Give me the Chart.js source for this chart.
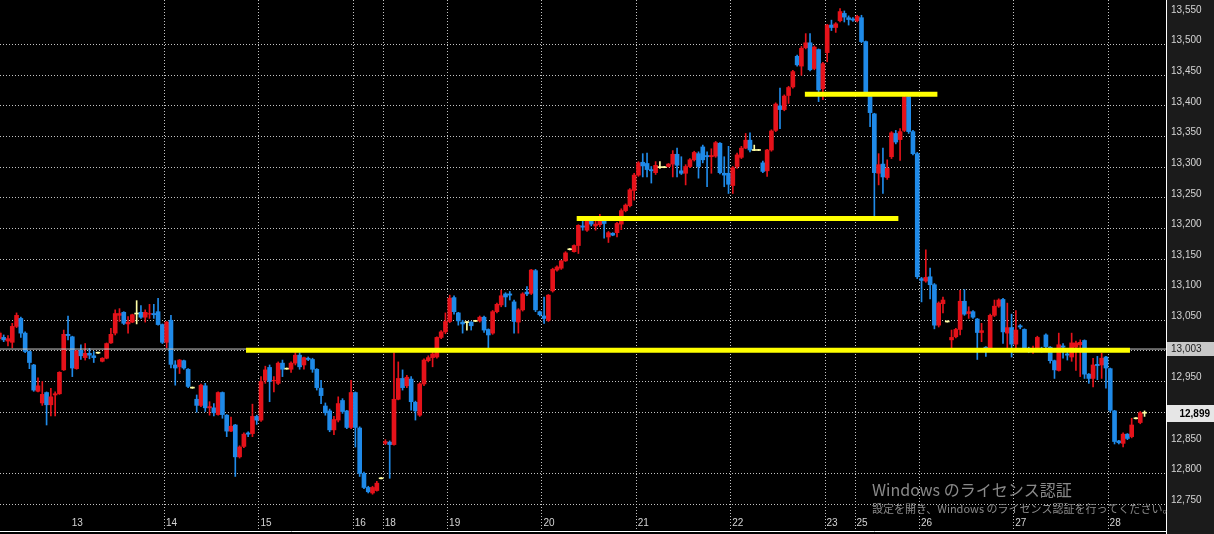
<!DOCTYPE html>
<html><head><meta charset="utf-8">
<script src="https://cdn.jsdelivr.net/npm/chart.js@4.4.0/dist/chart.umd.min.js"></script>
<style>html,body{margin:0;padding:0;background:#000;overflow:hidden}canvas{display:block}</style>
</head><body>
<canvas id="c" width="1214" height="534"></canvas>
<script>
const opens = [
13020,13022,13016,13014,13040,13053,13029,12999,12977,12934,
12915,12932,12912,12928,12930,12969,13027,13023,12971,13001,
12989,12996,12992,12997,12983,12988,13013,13029,13058,13063,
13044,13047,13061,13063,13055,13060,13061,13064,13043,13014,
13050,12977,12974,12984,12970,12940,12921,12911,12943,12907,
12907,12896,12932,12895,12869,12879,12827,12844,12866,12865,
12893,12887,12952,12973,12951,12947,12980,12971,12970,12980,
12993,12977,12988,12986,12970,12939,12910,12902,12871,12887,
12919,12902,12875,12932,12874,12800,12777,12768,12772,12792,
12849,12851,12847,12921,12955,12943,12954,12916,12895,12946,
12984,12989,12990,13022,13031,13048,13087,13062,13047,13047,
13047,13049,13049,13055,13035,13029,13064,13075,13093,13093,
13080,13047,13067,13096,13094,13131,13064,13057,13050,13098,
13132,13135,13147,13166,13162,13172,13204,13197,13213,13204,
13206,13213,13186,13192,13193,13207,13229,13237,13262,13287,
13308,13306,13296,13291,13300,13300,13301,13305,13321,13294,
13290,13301,13312,13322,13333,13319,13317,13318,13339,13290,
13290,13270,13301,13316,13331,13344,13328,13328,13307,13294,
13328,13360,13400,13394,13417,13431,13481,13465,13495,13503,
13461,13492,13428,13487,13532,13528,13539,13551,13544,13542,
13539,13544,13505,13418,13387,13290,13305,13283,13317,13355,
13345,13360,13415,13358,13322,13118,13114,13121,13108,13042,
13077,13048,13018,13023,13035,13081,13061,13064,13052,13030,
13006,13004,13058,13073,13084,13029,13038,13011,13041,13035,
13004,13000,13004,13004,13026,13006,12984,12968,13008,12995,
12990,13006,13010,13017,12962,12955,12978,12977,12990,12971,
12902,12853,12849,12864,12860,12890,12883,12899];
const highs = [
13031,13026,13025,13045,13062,13055,13031,13000,12978,12956,
12950,12933,12939,12933,12966,13034,13057,13024,13001,13010,
13012,13004,12999,12998,12989,13013,13037,13067,13069,13064,
13056,13060,13082,13074,13067,13076,13076,13086,13044,13048,
13058,12984,12986,12985,12971,12941,12928,12946,12947,12917,
12914,12933,12933,12896,12892,12880,12845,12866,12868,12913,
12895,12958,12975,12977,12958,12982,12985,12972,12982,12997,
12997,12990,12990,12988,12971,12952,12915,12905,12893,12925,
12922,12903,12952,12933,12876,12802,12779,12779,12787,12793,
12855,12853,12997,12982,12969,12960,12958,12918,12948,12987,
12992,12998,13023,13033,13062,13091,13090,13063,13050,13048,
13048,13050,13057,13057,13036,13066,13078,13099,13095,13097,
13083,13069,13095,13105,13133,13133,13065,13088,13092,13135,
13139,13148,13162,13167,13173,13206,13214,13218,13217,13217,
13223,13218,13195,13193,13210,13232,13240,13265,13290,13309,
13322,13323,13301,13309,13309,13301,13306,13327,13331,13317,
13304,13314,13326,13325,13336,13325,13330,13342,13340,13317,
13334,13301,13323,13334,13355,13356,13336,13329,13310,13329,
13361,13405,13429,13418,13432,13458,13483,13497,13518,13518,
13498,13493,13471,13533,13540,13536,13559,13555,13547,13544,
13548,13548,13506,13420,13388,13322,13331,13312,13358,13360,
13363,13418,13418,13360,13324,13120,13165,13135,13110,13080,
13088,13049,13034,13037,13099,13100,13072,13066,13053,13045,
13007,13060,13083,13085,13086,13078,13060,13066,13043,13036,
13006,13008,13024,13006,13028,13007,12985,13029,13012,13000,
13029,13016,13018,13018,12963,12988,12991,12996,12991,12972,
12903,12854,12866,12865,12890,12891,12901,12902];
const lows = [
13017,13015,13008,13005,13038,13022,12997,12971,12934,12933,
12911,12879,12894,12894,12929,12968,13018,12958,12970,12986,
12985,12987,12981,12996,12982,12987,13012,13026,13048,13043,
13029,13046,13044,13053,13047,13053,13053,13042,13012,13005,
12972,12944,12963,12970,12940,12939,12900,12909,12901,12895,
12894,12895,12890,12860,12868,12795,12825,12842,12860,12860,
12880,12885,12947,12917,12933,12945,12958,12970,12965,12977,
12970,12970,12984,12965,12936,12914,12895,12868,12863,12884,
12898,12873,12873,12843,12795,12775,12768,12766,12771,12791,
12847,12792,12846,12920,12936,12940,12903,12887,12893,12943,
12982,12974,12988,13020,13028,13046,13060,13042,13029,13034,
13034,13048,13047,13030,13004,13027,13062,13072,13072,13083,
13029,13029,13065,13090,13092,13064,13057,13045,13048,13096,
13130,13133,13146,13165,13161,13159,13197,13195,13204,13197,
13203,13184,13177,13188,13186,13198,13227,13235,13246,13285,
13284,13284,13274,13288,13298,13299,13300,13284,13284,13288,
13271,13299,13310,13282,13307,13268,13290,13316,13289,13268,
13257,13257,13298,13314,13330,13325,13327,13327,13291,13285,
13326,13358,13363,13392,13404,13429,13465,13450,13493,13457,
13459,13407,13410,13472,13523,13520,13537,13537,13532,13538,
13537,13503,13420,13366,13220,13271,13257,13280,13314,13338,
13311,13358,13355,13320,13118,13080,13112,13085,13036,13039,
13062,13047,13004,13021,13026,13058,13053,13053,12986,13015,
12991,13002,13056,13071,13012,12999,12990,13001,13036,13002,
12997,12996,13002,12998,13005,12980,12955,12967,12988,12985,
12983,12968,12958,12955,12947,12941,12953,12955,12939,12900,
12848,12848,12843,12855,12858,12889,12881,12893];
const closes = [
13029,13018,13020,13040,13058,13029,12999,12981,12936,12943,
12929,12912,12925,12930,12965,13027,13025,12972,13000,12992,
12996,12993,12989,12997,12988,13012,13027,13061,13061,13045,
13047,13059,13061,13055,13063,13061,13059,13043,13014,13047,
12978,12972,12985,12972,12942,12940,12911,12944,12907,12909,
12899,12932,12896,12869,12877,12827,12843,12864,12864,12893,
12887,12950,12969,12950,12952,12980,12970,12971,12980,12993,
12974,12989,12986,12970,12940,12927,12899,12871,12888,12914,
12901,12875,12932,12875,12800,12777,12770,12777,12784,12792,
12852,12847,12921,12955,12940,12957,12917,12902,12946,12985,
12989,12995,13022,13031,13048,13086,13064,13049,13044,13047,
13041,13049,13055,13034,13026,13064,13076,13090,13088,13091,
13048,13067,13093,13093,13132,13067,13059,13053,13091,13133,
13137,13147,13160,13166,13172,13205,13202,13213,13207,13207,
13216,13208,13193,13189,13208,13229,13238,13263,13287,13307,
13302,13296,13294,13303,13300,13300,13305,13321,13303,13290,
13301,13312,13324,13301,13312,13317,13319,13340,13291,13287,
13272,13299,13320,13331,13344,13328,13328,13328,13293,13328,
13359,13403,13394,13416,13430,13456,13467,13494,13503,13459,
13496,13426,13469,13532,13528,13534,13554,13545,13541,13540,
13546,13505,13423,13389,13291,13304,13284,13298,13356,13341,
13358,13415,13358,13322,13121,13115,13120,13108,13042,13078,
13083,13048,13022,13035,13081,13060,13064,13055,13030,13033,
13004,13058,13073,13083,13031,13038,13011,13034,13039,13004,
13000,13004,13022,13001,13007,12984,12969,13010,13006,12993,
13013,13013,13014,12962,12955,12977,12976,12988,12972,12903,
12852,12850,12864,12857,12879,12890,12899,12899];

const dayLabels = ['13','14','15','16','18','19','20','21','22','23','25','26','27','28'];
const dayFirstCandle = [17,39,61,83,90,105,127,149,171,193,200,215,237,259];
const yTickValues = [12750,12800,12850,12900,12950,13000,13050,13100,13150,13200,13250,13300,13350,13400,13450,13500,13550];
const hiddenGridValues = [12850,13550];
const hiddenLabelValues = [12900,13000];
const levelValues = [13001, 13216, 13419];
const levelFrom = [57.5, 134.6, 187.8];
const levelTo = [263.6, 209.6, 218.7];
const markedLevel = 13003;

const X_MIN = 0.14, X_MAX = 272.0;
const RED = '#e5121a', BLUE = '#1f8ae8', DOJI = '#ffffa6', GRID = '#c4c4c4';
const TXT = '#d4d4d4';
const FONT = {family: 'Liberation Sans', size: 10};

const idx = opens.map((_, i) => i);
const colors = idx.map(i => closes[i] > opens[i] ? RED : (closes[i] < opens[i] ? BLUE : DOJI));
const bodyData = idx.map(i => ({x: i, y: opens[i] === closes[i] ? [opens[i] - 0.8, opens[i] + 0.8] : [opens[i], closes[i]]}));
const wickData = idx.map(i => ({x: i, y: [lows[i], highs[i]]}));
const fmt = v => Number(v).toLocaleString('en-US');

const datasets = [];
levelValues.forEach((v, k) => datasets.push({
  type: 'line', data: [{x: levelFrom[k], y: v}, {x: levelTo[k], y: v}],
  borderColor: '#ffff00', borderWidth: 5, pointRadius: 0, order: 0, borderCapStyle: 'butt'
}));
datasets.push({type: 'line', data: [{x: X_MIN, y: markedLevel}, {x: X_MAX, y: markedLevel}],
  borderColor: '#c8c8c8', borderWidth: 1, pointRadius: 0, order: 1});
datasets.push({type: 'bar', data: bodyData, backgroundColor: colors, barThickness: 4, grouped: false, order: 2, borderWidth: 0});
datasets.push({type: 'bar', data: wickData, backgroundColor: colors, barThickness: 1, grouped: false, order: 3, borderWidth: 0});

const decor = {
  id: 'decor',
  beforeDraw(chart) {
    const c = chart.ctx, a = chart.chartArea;
    c.save();
    c.fillStyle = '#000'; c.fillRect(0, 0, chart.width, chart.height);
    c.fillStyle = '#1b1b1b'; c.fillRect(a.right, 0, chart.width - a.right, chart.height);
    c.restore();
  },
  afterDraw(chart) {
    const c = chart.ctx, a = chart.chartArea, ys = chart.scales.y;
    c.save();
    c.strokeStyle = '#ffffff'; c.lineWidth = 1;
    c.beginPath(); c.moveTo(a.right + 0.5, 0); c.lineTo(a.right + 0.5, chart.height); c.stroke();
    c.beginPath(); c.moveTo(0, 531.5); c.lineTo(a.right, 531.5); c.stroke();
    // marked level box
    const y1 = Math.round(ys.getPixelForValue(markedLevel));
    c.fillStyle = '#c8c8c8'; c.fillRect(a.right + 1, y1 - 7, chart.width - a.right - 1, 14);
    c.fillStyle = '#1a1a1a'; c.font = '10px "Liberation Sans"'; c.textAlign = 'left'; c.textBaseline = 'middle';
    c.fillText(fmt(markedLevel), a.right + 5, y1 + 0.5);
    // last price box
    const last = closes[closes.length - 1];
    const y2 = Math.round(ys.getPixelForValue(last));
    c.fillStyle = '#e6e6e6'; c.fillRect(a.right + 1, y2 - 8, chart.width - a.right - 1, 17);
    c.fillStyle = '#000'; c.font = 'bold 10px "Liberation Sans"'; c.textAlign = 'right';
    c.fillText(fmt(last), chart.width - 4, y2 + 1);
    // watermark
    c.textAlign = 'left'; c.fillStyle = '#8a8a8a';
    c.font = '16px "Noto Sans CJK JP"';
    c.fillText('Windows のライセンス認証', 872, 490);
    c.font = '11px "Noto Sans CJK JP"';
    c.fillText('設定を開き、Windows のライセンス認証を行ってください。', 872, 509);
    c.restore();
  }
};

new Chart(document.getElementById('c'), {
  type: 'bar',
  data: {datasets},
  plugins: [decor],
  options: {
    responsive: false, animation: false, devicePixelRatio: 1, events: [],
    layout: {padding: 0, autoPadding: false},
    plugins: {legend: {display: false}, tooltip: {enabled: false}},
    scales: {
      x: {
        type: 'linear', min: X_MIN, max: X_MAX, offset: false,
        grid: {color: ctx => ctx.index === 0 ? 'rgba(0,0,0,0)' : GRID, offset: false, drawTicks: true,
               tickLength: 27, tickBorderDash: [1, 2], lineWidth: 1},
        border: {display: false, dash: [1, 2]},
        ticks: {autoSkip: false, maxRotation: 0, minRotation: 0, align: 'start', labelOffset: 1.5,
                padding: -14, color: TXT, font: FONT, callback: (v, i) => dayLabels[i]},
        afterBuildTicks: s => { s.ticks = dayFirstCandle.map(f => ({value: f - 0.5})); },
        afterFit: s => { s.height = 30; s.paddingLeft = 0; s.paddingRight = 0; s.paddingTop = 0; s.paddingBottom = 0; }
      },
      y: {
        type: 'linear', position: 'right', min: 12750, max: 13572.9, beginAtZero: false,
        grid: {color: ctx => (ctx.tick && hiddenGridValues.includes(ctx.tick.value)) ? 'rgba(0,0,0,0)' : GRID,
               drawTicks: false, lineWidth: 1},
        border: {display: false, dash: [1, 2]},
        ticks: {padding: 5, labelOffset: -4, color: TXT, font: FONT,
                callback: v => hiddenLabelValues.includes(v) ? '' : fmt(v)},
        afterBuildTicks: s => { s.ticks = yTickValues.map(v => ({value: v})); },
        afterFit: s => { s.width = 48; s.paddingTop = 0; s.paddingBottom = 0; s.paddingLeft = 0; s.paddingRight = 0; }
      }
    }
  }
});
</script>
</body></html>
